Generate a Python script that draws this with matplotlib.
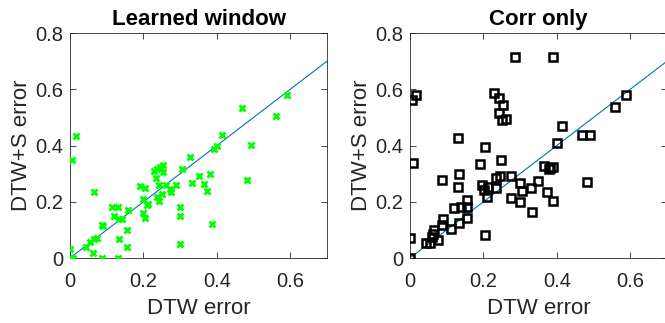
import matplotlib.pyplot as plt

plt.rcParams['font.family'] = ['Liberation Sans', 'DejaVu Sans']

# Learned window panel
learned_x = [0, 0, 0.009, 0.005, 0.016, 0.044, 0.054, 0.064, 0.073, 0.062, 0.066,
             0.086, 0.086, 0.091, 0.114, 0.130, 0.120, 0.134, 0.141, 0.132, 0.134,
             0.154, 0.154, 0.157, 0.191, 0.204, 0.200, 0.198, 0.204, 0.213, 0.211,
             0.229, 0.238, 0.245, 0.254, 0.234, 0.254, 0.243, 0.236, 0.243, 0.250,
             0.262, 0.272, 0.275, 0.288, 0.304, 0.300, 0.300, 0.300, 0.327, 0.333,
             0.350, 0.365, 0.372, 0.380, 0.388, 0.391, 0.400, 0.415, 0.468, 0.481,
             0.493, 0.560, 0.590]
learned_y = [0.033, 0, 0, 0.348, 0.434, 0.039, 0.057, 0.069, 0.072, 0.018, 0.233,
             0, 0.117, 0.115, 0.181, 0.181, 0.151, 0.138, 0.138, 0, 0.067,
             0.099, 0.038, 0.169, 0.255, 0.249, 0.211, 0.161, 0.144, 0.193, 0.189,
             0.309, 0.315, 0.323, 0.331, 0.285, 0.305, 0.261, 0.217, 0.203, 0.228,
             0.258, 0.245, 0.234, 0.261, 0.317, 0.183, 0.150, 0.049, 0.359, 0.267,
             0.293, 0.263, 0.240, 0.299, 0.120, 0.389, 0.398, 0.437, 0.532, 0.276,
             0.403, 0.504, 0.580]

# Corr only panel
corr_x = [0, 0, 0.005, 0.016, 0.009, 0.043, 0.054, 0.061, 0.066, 0.063, 0.075,
          0.086, 0.090, 0.086, 0.113, 0.119, 0.134, 0.140, 0.154, 0.156, 0.154,
          0.131, 0.134, 0.131, 0.190, 0.197, 0.201, 0.213, 0.233, 0.210, 0.204,
          0.205, 0.228, 0.242, 0.253, 0.242, 0.251, 0.262, 0.249, 0.235, 0.244,
          0.274, 0.287, 0.274, 0.299, 0.305, 0.299, 0.329, 0.333, 0.350, 0.365,
          0.378, 0.389, 0.382, 0.374, 0.389, 0.390, 0.400, 0.414, 0.468, 0.491,
          0.481, 0.559, 0.588]
corr_y = [0, 0.071, 0.563, 0.580, 0.339, 0.054, 0.054, 0.075, 0.099, 0.084, 0.063,
          0.117, 0.138, 0.276, 0.102, 0.179, 0.123, 0.183, 0.181, 0.205, 0.144,
          0.252, 0.299, 0.426, 0.335, 0.258, 0.243, 0.252, 0.249, 0.217, 0.081,
          0.396, 0.587, 0.569, 0.545, 0.514, 0.491, 0.494, 0.350, 0.285, 0.291,
          0.293, 0.713, 0.213, 0.267, 0.240, 0.199, 0.249, 0.165, 0.273, 0.327,
          0.315, 0.323, 0.321, 0.234, 0.201, 0.715, 0.408, 0.470, 0.438, 0.438,
          0.272, 0.536, 0.580]

diag = [0, 0.7]
xticks = [0, 0.2, 0.4, 0.6]
yticks = [0, 0.2, 0.4, 0.6, 0.8]

fig = plt.figure(figsize=(6.65, 3.23), dpi=100)
ax1 = fig.add_axes([0.1053, 0.2012, 0.3865, 0.6966])
ax2 = fig.add_axes([0.6165, 0.2012, 0.3865, 0.6966])

ax1.plot(learned_x, learned_y, 'x', color='#00ff00', markersize=5, markeredgewidth=2, zorder=3)
ax2.plot(corr_x, corr_y, 's', markerfacecolor='none', markeredgecolor='black',
         markersize=6, markeredgewidth=1.8, zorder=3)

for ax, title in [(ax1, 'Learned window'), (ax2, 'Corr only')]:
    ax.plot(diag, diag, color='#0072BD', linewidth=0.8, zorder=2)
    ax.set_xlim(0, 0.7)
    ax.set_ylim(0, 0.8)
    ax.set_xticks(xticks)
    ax.set_xticklabels(['0', '0.2', '0.4', '0.6'])
    ax.set_yticks(yticks)
    ax.set_yticklabels(['0', '0.2', '0.4', '0.6', '0.8'])
    ax.tick_params(direction='in', top=True, right=True, labelsize=14.5,
                   colors='#262626', length=4, width=0.6)
    ax.tick_params(axis='x', pad=10)
    ax.tick_params(axis='y', pad=5)
    for s in ax.spines.values():
        s.set_color('#262626')
        s.set_linewidth(0.6)
    ax.set_xlabel('DTW error', fontsize=16, color='#262626', labelpad=5)
    ax.set_ylabel('DTW+S error', fontsize=16, color='#262626', labelpad=2)
    ax.set_title(title, fontsize=16, fontweight='bold', pad=6)

fig.savefig('out.png', dpi=100)
